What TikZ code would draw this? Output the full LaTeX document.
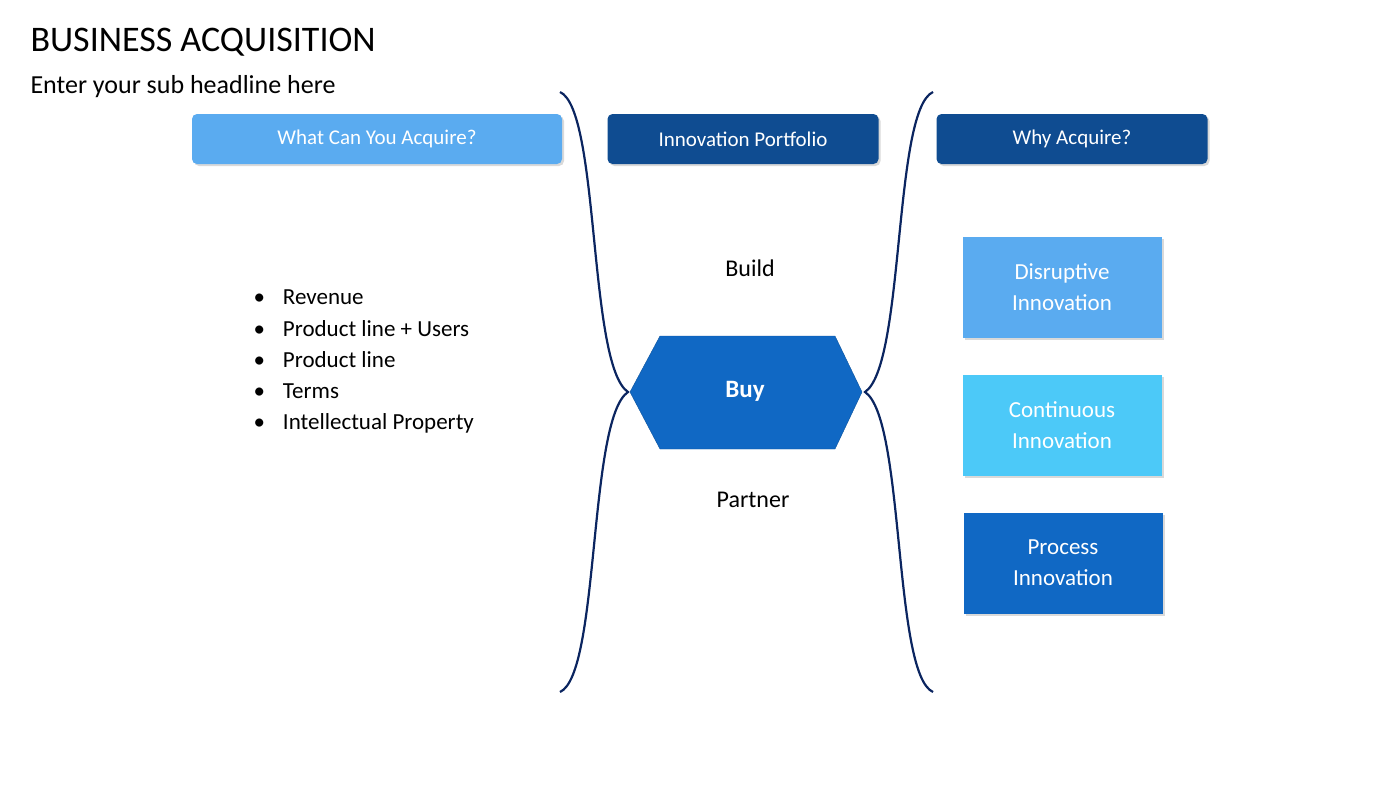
\documentclass[tikz,border=0pt]{standalone}
\usepackage{fontspec}
\setmainfont{Carlito}
\usetikzlibrary{positioning,shadows}
\definecolor{lightblue}{HTML}{5AABF0}
\definecolor{darkblue}{HTML}{0F4C91}
\definecolor{midblue}{HTML}{1068C4}
\definecolor{skyblue}{HTML}{4CC9F8}
\definecolor{curveblue}{HTML}{0B2560}
\begin{document}
\begin{tikzpicture}[x=1pt,y=-1pt]
\tikzstyle{head}=[rectangle, rounded corners=5pt, minimum height=50pt, text=white, font=\fontsize{21}{24}\selectfont, drop shadow={opacity=0.3,shadow xshift=2pt,shadow yshift=-2pt}]
\tikzstyle{reason}=[rectangle, minimum width=199pt, minimum height=101pt, text=white, align=center, font=\fontsize{23}{31}\selectfont, drop shadow={opacity=0.3,shadow xshift=2pt,shadow yshift=-2pt}]
\tikzstyle{plain}=[font=\fontsize{24}{28}\selectfont]
\tikzstyle{brace}=[curveblue, line width=2.2pt]
\useasboundingbox (0,0) rectangle (1400,785);
  \node[anchor=west, font=\fontsize{36}{40}\selectfont] (title) at (27,42) {BUSINESS ACQUISITION};
  \node[anchor=west, font=\fontsize{26}{30}\selectfont] (sub) at (27,87) {Enter your sub headline here};
  \node[head, fill=lightblue, minimum width=370pt] (what) at (377,139) {What Can You Acquire?};
  \node[head, fill=darkblue, minimum width=271pt] (portfolio) at (743,139) {Innovation Portfolio};
  \node[head, fill=darkblue, minimum width=271pt] (why) at (1072,139) {Why Acquire?};
  \node[plain] (build) at (750,268) {Build};
  \node[plain] (partner) at (753,500) {Partner};
  \draw[fill=midblue, draw=midblue!80!black] (660,336) -- (835,336) -- (862,392) -- (835,449) -- (660,449) -- (630,392) -- cycle;
  \node[text=white, font=\fontsize{25}{28}\selectfont\bfseries] (buy) at (745,391) {Buy};
  \coordinate (ltop) at (560,92);
  \coordinate (ltip) at (628,392);
  \coordinate (lbot) at (560,692);
  \coordinate (rtop) at (933,92);
  \coordinate (rtip) at (865,392);
  \coordinate (rbot) at (933,692);
  \draw[brace] (ltop) .. controls (600,110) and (588,365) .. (ltip) .. controls (588,419) and (600,674) .. (lbot);
  \draw[brace] (rtop) .. controls (893,110) and (905,365) .. (rtip) .. controls (905,419) and (893,674) .. (rbot);
  \node[reason, fill=lightblue] (disruptive) at (1062,287) {Disruptive\\Innovation};
  \node[reason, fill=skyblue] (continuous) at (1062,425) {Continuous\\Innovation};
  \node[reason, fill=midblue] (process) at (1063,563) {Process\\Innovation};
  \foreach \txt [count=\i] in {Revenue, Product line + Users, Product line, Terms, Intellectual Property} {
    \node[anchor=west, font=\fontsize{23}{26}\selectfont] (item\i) at (250,{297+31.5*(\i-1)}) {\textbullet\hspace{18pt}\txt};
  }
\end{tikzpicture}
\end{document}
